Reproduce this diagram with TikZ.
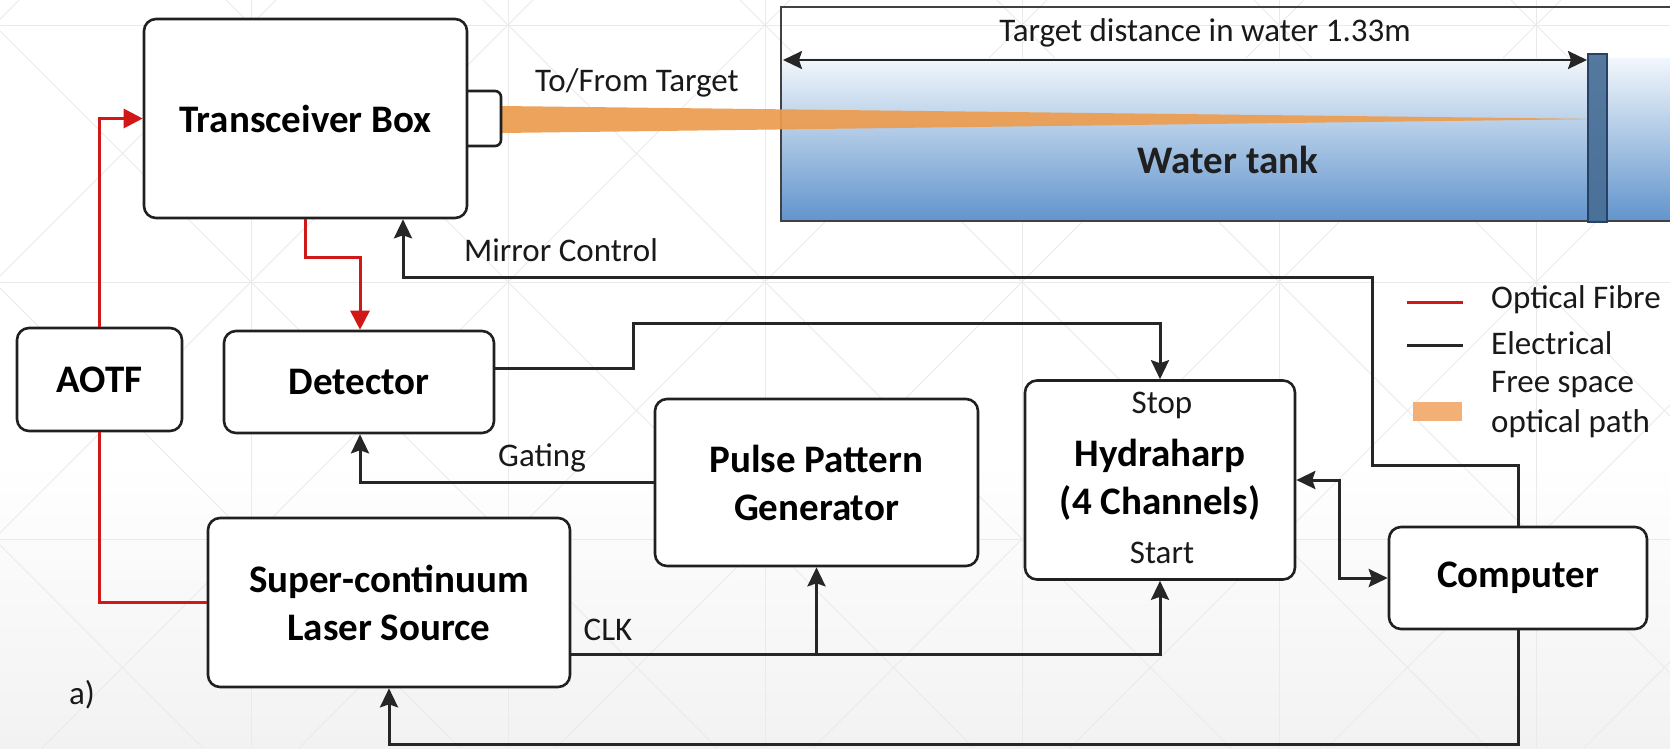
\documentclass[tikz,border=0pt]{standalone}
\usepackage{fontspec}
\setmainfont{Carlito}
\usetikzlibrary{arrows.meta,calc}

\definecolor{fibrec}{RGB}{208,24,24}
\definecolor{wirec}{RGB}{38,38,38}
\definecolor{edgec}{RGB}{32,32,32}
\definecolor{beamc}{RGB}{236,156,78}
\definecolor{beamkey}{RGB}{242,176,118}
\definecolor{waterlo}{RGB}{98,148,204}
\definecolor{waterhi}{RGB}{242,247,252}
\definecolor{targetc}{RGB}{72,110,150}
\definecolor{targetd}{RGB}{38,66,100}
\definecolor{gridc}{RGB}{234,234,234}
\definecolor{floorc}{RGB}{242,242,242}

\tikzset{
  box/.style={draw=edgec, line width=2.6pt, rounded corners=12pt, fill=white,
    align=center, inner sep=0pt, font=\bfseries\fontsize{39}{48}\selectfont},
  lbl/.style={inner sep=0pt, font=\fontsize{33}{40}\selectfont, text=black!90},
  wire/.style={draw=wirec, line width=3pt},
  fibre/.style={draw=fibrec, line width=3pt},
  etip/.style={-{Stealth[length=19pt,width=18pt,inset=3pt]}},
  etips/.style={{Stealth[length=19pt,width=18pt,inset=3pt]}-{Stealth[length=19pt,width=18pt,inset=3pt]}},
  ftip/.style={-{Triangle[length=19pt,width=19pt]}},
  gridline/.style={draw=gridc, line width=1pt},
}

\begin{document}
\begin{tikzpicture}[x=1pt,y=-1pt]
\useasboundingbox (0,0) rectangle (1670,748);

% paper with a soft grey floor
\fill[white] (0,0) rectangle (1670,748);
\shade[top color=white, bottom color=floorc] (0,460) rectangle (1670,748);

% faint drafting grid
\begin{scope}
  \clip (0,0) rectangle (1670,748);
  \foreach \gx in {251,508,765,1022,1279,1536} \draw[gridline] (\gx,0) -- (\gx,748);
  \foreach \gy in {25,282,539} \draw[gridline] (0,\gy) -- (1670,\gy);
  \foreach \k in {-4,...,9} {
    \pgfmathsetmacro\ca{226+257*\k}
    \pgfmathsetmacro\cb{276+257*\k}
    \draw[gridline] (\ca,0) -- ++(748,748);
    \draw[gridline] (\cb,0) -- ++(-748,748);
  }
\end{scope}

% water tank
\shade[top color=waterhi, bottom color=waterlo] (781,58) rectangle (1672,221);
\draw[draw=edgec!85, line width=2.6pt] (1672,7) -- (781,7) -- (781,221) -- (1672,221);

% free-space beam from the transceiver port to the target
\fill[beamc, opacity=0.92] (501,106) -- (1600,119) -- (501,133) -- cycle;

% target plate
\filldraw[fill=targetc, draw=targetd, line width=1.5pt, fill opacity=0.92] (1588,54) rectangle (1607,222);

% distance marker
\coordinate (dl) at (783,60);
\coordinate (dr) at (1587,60);
\draw[wire, line width=2.5pt, etips] (dl) -- (dr);
\node[lbl] (dist) at (1205,33) {Target distance in water 1.33m};
\node[inner sep=0pt, font=\bfseries\fontsize{39}{48}\selectfont, text=black!88] (tank) at (1228,160) {Water tank};

% transceiver output port
\draw[draw=edgec, line width=2.6pt, fill=white, rounded corners=6pt] (450,91) rectangle (501,146);

% instrument blocks
\node[box, minimum width=323pt, minimum height=199pt] (trans) at (305.5,118.5) {Transceiver Box};
\node[box, minimum width=165pt, minimum height=103pt] (aotf) at (99.5,379.5) {AOTF};
\node[box, minimum width=270pt, minimum height=102pt] (det) at (359,382) {Detector};
\node[box, minimum width=323pt, minimum height=167pt] (ppg) at (816.5,482.5) {Pulse Pattern\\Generator};
\node[box, minimum width=270pt, minimum height=199pt] (hyd) at (1160,480) {Hydraharp\\(4 Channels)};
\node[box, minimum width=258pt, minimum height=102pt] (comp) at (1518,578) {Computer};
\node[box, minimum width=362pt, minimum height=169pt] (laser) at (389,602.5) {Super-continuum\\Laser Source};

\node[lbl] (hstop) at (1162,405) {Stop};
\node[lbl] (hstart) at (1162,553) {Start};

% optical fibre links
\draw[fibre, ftip] (aotf.north) |- (trans.west);
\draw[fibre] (aotf.south) |- (laser.west);
\draw[fibre, ftip] (trans.south) -- ++(0,38) -| ([xshift=1pt]det.north);

% electrical links
\coordinate (mA) at (1372,465);
\coordinate (mB) at (1372,277);
\draw[wire, etip] (comp.north) |- (mA) -- (mB) -| ([xshift=97.5pt]trans.south);

\coordinate (sA) at (633,323);
\draw[wire, etip] ([yshift=14pt]det.east) -| (sA) -| (hyd.north);

\draw[wire, etip] (ppg.west) -| ([xshift=1pt]det.south);

\coordinate (clk) at ([yshift=-51.5pt]laser.east);
\draw[wire, etip] (clk) -| (hyd.south);
\draw[wire, etip] (ppg.south |- clk) -- (ppg.south);

\draw[wire, etips] (hyd.east) -- ++(43,0) |- (comp.west);

\coordinate (floor) at (0,744);
\draw[wire, etip] (comp.south) -- (comp.south |- floor) -| (laser.south);

% connector labels
\node[lbl] (tofrom) at (637,83) {To/From Target};
\node[lbl] (mirror) at (561,250) {Mirror Control};
\node[lbl] (gating) at (542,458) {Gating};
\node[lbl] (clklbl) at (608,630) {CLK};
\node[lbl] (panel) at (82,695) {a)};

% key
\coordinate (kf1) at (1407,302); \coordinate (kf2) at (1463,302);
\coordinate (ke1) at (1407,345); \coordinate (ke2) at (1463,345);
\draw[fibre] (kf1) -- (kf2);
\draw[wire] (ke1) -- (ke2);
\fill[beamkey] (1413,402) rectangle (1462,421);
\node[lbl, anchor=west] (kfib) at (1491,300) {Optical Fibre};
\node[lbl, anchor=west] (kele) at (1491,343) {Electrical};
\node[lbl, anchor=west, align=left] (kfree) at (1491,405) {Free space\\optical path};
\end{tikzpicture}
\end{document}
